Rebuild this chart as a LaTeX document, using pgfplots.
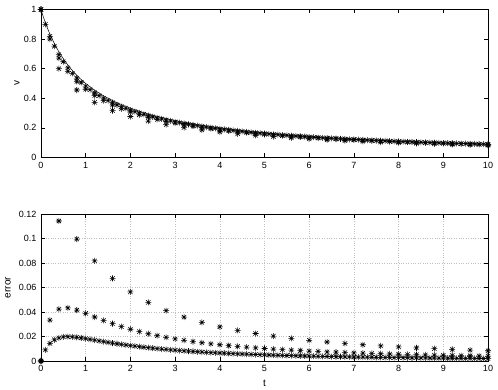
\documentclass[border=0pt]{standalone}
\usepackage{fontspec}
\setmainfont{Liberation Sans}
\usepackage{pgfplots}
\pgfplotsset{compat=1.18}
\pgfdeclareplotmark{mstar}{%
  \pgfpathmoveto{\pgfqpoint{-\pgfplotmarksize}{0pt}}\pgfpathlineto{\pgfqpoint{\pgfplotmarksize}{0pt}}%
  \pgfpathmoveto{\pgfqpoint{0pt}{-\pgfplotmarksize}}\pgfpathlineto{\pgfqpoint{0pt}{\pgfplotmarksize}}%
  \pgfpathmoveto{\pgfqpoint{-0.707\pgfplotmarksize}{-0.707\pgfplotmarksize}}\pgfpathlineto{\pgfqpoint{0.707\pgfplotmarksize}{0.707\pgfplotmarksize}}%
  \pgfpathmoveto{\pgfqpoint{-0.707\pgfplotmarksize}{0.707\pgfplotmarksize}}\pgfpathlineto{\pgfqpoint{0.707\pgfplotmarksize}{-0.707\pgfplotmarksize}}%
  \pgfusepathqstroke}
\pgfplotsset{
  mysty/.style={
    scale only axis, width=447pt,
    xmin=0, xmax=10, xtick={0,1,...,10},
    tick align=inside, tick pos=both,
    major tick length=4pt,
    axis line style={black, line width=0.6pt},
    every tick/.style={black, line width=0.5pt},
    tick label style={font=\fontsize{9}{10}\selectfont},
    /pgf/number format/assume math mode=true,
    scaled ticks=false,
    yticklabel style={/pgf/number format/fixed, xshift=-1pt},
    xticklabel style={yshift=-1pt},
    label style={font=\fontsize{9}{10}\selectfont},
  },
  est/.style={only marks, mark=mstar, mark size=3pt, black, mark options={line width=0.55pt}},
}
\begin{document}
\begin{tikzpicture}
\path[use as bounding box] (-41pt,-29pt) rectangle (457pt,361pt);
% top axis
\begin{axis}[mysty, at={(0pt,203.5pt)}, anchor=south west, height=148pt,
  ymin=0, ymax=1, ytick={0,0.2,0.4,0.6,0.8,1},
  ylabel={v},
  every axis y label/.style={at={(axis description cs:0,0.5)}, xshift=-24pt, anchor=center, rotate=90}]
\addplot[black, line width=0.5pt] table {
0 1
0.05 0.952381
0.1 0.909091
0.15 0.869565
0.2 0.833333
0.3 0.769231
0.4 0.714286
0.5 0.666667
0.6 0.625
0.7 0.588235
0.8 0.555556
0.9 0.526316
1 0.5
1.2 0.454545
1.4 0.416667
1.6 0.384615
1.8 0.357143
2 0.333333
2.25 0.307692
2.5 0.285714
2.75 0.266667
3 0.25
3.5 0.222222
4 0.2
4.5 0.181818
5 0.166667
5.5 0.153846
6 0.142857
6.5 0.133333
7 0.125
7.5 0.117647
8 0.111111
8.5 0.105263
9 0.1
9.5 0.095238
10 0.090909
};
\addplot[est] table {
0 1
0.4 0.6
0.8 0.456
1.2 0.372826
1.6 0.317226
2.0 0.276973
2.4 0.246287
2.8 0.222024
3.2 0.202307
3.6 0.185935
4.0 0.172107
4.4 0.160258
4.8 0.149985
5.2 0.140987
5.6 0.133036
6.0 0.125957
6.4 0.119611
6.8 0.113888
7.2 0.108700
7.6 0.103974
8.0 0.099649
8.4 0.095677
8.8 0.092016
9.2 0.088629
9.6 0.085487
10.0 0.082564
};
\addplot[est] table {
0 1
0.2 0.8
0.4 0.672
0.6 0.581683
0.8 0.514012
1.0 0.461171
1.2 0.418635
1.4 0.383584
1.6 0.354157
1.8 0.329071
2.0 0.307414
2.2 0.288513
2.4 0.271865
2.6 0.257083
2.8 0.243865
3.0 0.231971
3.2 0.221209
3.4 0.211422
3.6 0.202482
3.8 0.194282
4.0 0.186733
4.2 0.179759
4.4 0.173297
4.6 0.167290
4.8 0.161693
5.0 0.156464
5.2 0.151568
5.4 0.146974
5.6 0.142653
5.8 0.138583
6.0 0.134742
6.2 0.131111
6.4 0.127673
6.6 0.124413
6.8 0.121317
7.0 0.118374
7.2 0.115571
7.4 0.112900
7.6 0.110351
7.8 0.107915
8.0 0.105586
8.2 0.103356
8.4 0.101220
8.6 0.099171
8.8 0.097204
9.0 0.095314
9.2 0.093497
9.4 0.091749
9.6 0.090065
9.8 0.088443
10.0 0.086879
};
\addplot[est] table {
0 1
0.1 0.9
0.2 0.819
0.3 0.751924
0.4 0.695385
0.5 0.647029
0.6 0.605164
0.7 0.568541
0.8 0.536218
0.9 0.507465
1.0 0.481713
1.1 0.458508
1.2 0.437485
1.3 0.418346
1.4 0.400845
1.5 0.384777
1.6 0.369971
1.7 0.356283
1.8 0.343590
1.9 0.331785
2.0 0.320776
2.1 0.310487
2.2 0.300846
2.3 0.291795
2.4 0.283281
2.5 0.275256
2.6 0.267680
2.7 0.260514
2.8 0.253728
2.9 0.247290
3.0 0.241175
3.1 0.235358
3.2 0.229819
3.3 0.224537
3.4 0.219496
3.5 0.214677
3.6 0.210069
3.7 0.205656
3.8 0.201426
3.9 0.197370
4.0 0.193474
4.1 0.189730
4.2 0.186131
4.3 0.182666
4.4 0.179330
4.5 0.176114
4.6 0.173012
4.7 0.170019
4.8 0.167128
4.9 0.164335
5.0 0.161635
5.1 0.159021
5.2 0.156493
5.3 0.154044
5.4 0.151671
5.5 0.149371
5.6 0.147139
5.7 0.144975
5.8 0.142873
5.9 0.140832
6.0 0.138848
6.1 0.136920
6.2 0.135046
6.3 0.133222
6.4 0.131447
6.5 0.129719
6.6 0.128037
6.7 0.126397
6.8 0.124799
6.9 0.123242
7.0 0.121723
7.1 0.120242
7.2 0.118796
7.3 0.117385
7.4 0.116007
7.5 0.114661
7.6 0.113346
7.7 0.112062
7.8 0.110805
7.9 0.109578
8.0 0.108377
8.1 0.107202
8.2 0.106054
8.3 0.104929
8.4 0.103828
8.5 0.102749
8.6 0.101694
8.7 0.100660
8.8 0.099647
8.9 0.098653
9.0 0.097680
9.1 0.096726
9.2 0.095790
9.3 0.094873
9.4 0.093973
9.5 0.093090
9.6 0.092224
9.7 0.091373
9.8 0.090538
9.9 0.089718
10.0 0.088913
};
\end{axis}
% bottom axis
\begin{axis}[mysty, at={(0pt,0pt)}, anchor=south west, height=147pt,
  ymin=0, ymax=0.12, ytick={0,0.02,0.04,0.06,0.08,0.1,0.12},
  grid=major, grid style={gray!50, dotted, line width=0.5pt},
  xlabel={t},
  every axis x label/.style={at={(axis description cs:0.5,0)}, yshift=-22pt, anchor=center},
  ylabel={error},
  every axis y label/.style={at={(axis description cs:0,0.5)}, xshift=-33pt, anchor=center, rotate=90}]
\addplot[est] table {
0 0
0.4 0.114286
0.8 0.099556
1.2 0.081719
1.6 0.067389
2.0 0.056360
2.4 0.047831
2.8 0.041134
3.2 0.035788
3.6 0.031456
4.0 0.027893
4.4 0.024927
4.8 0.022429
5.2 0.020303
5.6 0.018479
6.0 0.016900
6.4 0.015524
6.8 0.014317
7.2 0.013251
7.6 0.012305
8.0 0.011462
8.4 0.010706
8.8 0.010025
9.2 0.009410
9.6 0.008853
10.0 0.008345
};
\addplot[est] table {
0 0
0.2 0.033333
0.4 0.042286
0.6 0.043317
0.8 0.041544
1.0 0.038829
1.2 0.035910
1.4 0.033083
1.6 0.030458
1.8 0.028072
2.0 0.025919
2.2 0.023987
2.4 0.022253
2.6 0.020695
2.8 0.019293
3.0 0.018029
3.2 0.016886
3.4 0.015851
3.6 0.014909
3.8 0.014051
4.0 0.013267
4.2 0.012549
4.4 0.011888
4.6 0.011281
4.8 0.010721
5.0 0.010203
5.2 0.009722
5.4 0.009276
5.6 0.008862
5.8 0.008476
6.0 0.008115
6.2 0.007778
6.4 0.007462
6.6 0.007166
6.8 0.006888
7.0 0.006626
7.2 0.006380
7.4 0.006148
7.6 0.005928
7.8 0.005721
8.0 0.005525
8.2 0.005340
8.4 0.005163
8.6 0.004996
8.8 0.004837
9.0 0.004686
9.2 0.004542
9.4 0.004405
9.6 0.004275
9.8 0.004150
10.0 0.004030
};
\addplot[est] table {
0 0
0.1 0.009091
0.2 0.014333
0.3 0.017307
0.4 0.018901
0.5 0.019638
0.6 0.019836
0.7 0.019694
0.8 0.019338
0.9 0.018851
1.0 0.018287
1.1 0.017682
1.2 0.017060
1.3 0.016437
1.4 0.015822
1.5 0.015223
1.6 0.014644
1.7 0.014087
1.8 0.013553
1.9 0.013043
2.0 0.012557
2.1 0.012094
2.2 0.011654
2.3 0.011235
2.4 0.010837
2.5 0.010458
2.6 0.010098
2.7 0.009756
2.8 0.009430
2.9 0.009120
3.0 0.008825
3.1 0.008544
3.2 0.008276
3.3 0.008021
3.4 0.007777
3.5 0.007545
3.6 0.007322
3.7 0.007110
3.8 0.006907
3.9 0.006712
4.0 0.006526
4.1 0.006348
4.2 0.006177
4.3 0.006013
4.4 0.005855
4.5 0.005704
4.6 0.005559
4.7 0.005420
4.8 0.005286
4.9 0.005157
5.0 0.005032
5.1 0.004913
5.2 0.004797
5.3 0.004686
5.4 0.004579
5.5 0.004475
5.6 0.004376
5.7 0.004279
5.8 0.004186
5.9 0.004096
6.0 0.004009
6.1 0.003925
6.2 0.003843
6.3 0.003764
6.4 0.003688
6.5 0.003614
6.6 0.003542
6.7 0.003473
6.8 0.003406
6.9 0.003340
7.0 0.003277
7.1 0.003215
7.2 0.003155
7.3 0.003097
7.4 0.003041
7.5 0.002986
7.6 0.002933
7.7 0.002881
7.8 0.002831
7.9 0.002782
8.0 0.002734
8.1 0.002688
8.2 0.002642
8.3 0.002598
8.4 0.002555
8.5 0.002514
8.6 0.002473
8.7 0.002433
8.8 0.002394
8.9 0.002357
9.0 0.002320
9.1 0.002284
9.2 0.002249
9.3 0.002214
9.4 0.002181
9.5 0.002148
9.6 0.002116
9.7 0.002085
9.8 0.002055
9.9 0.002025
10.0 0.001996
};
\end{axis}
\end{tikzpicture}
\end{document}
